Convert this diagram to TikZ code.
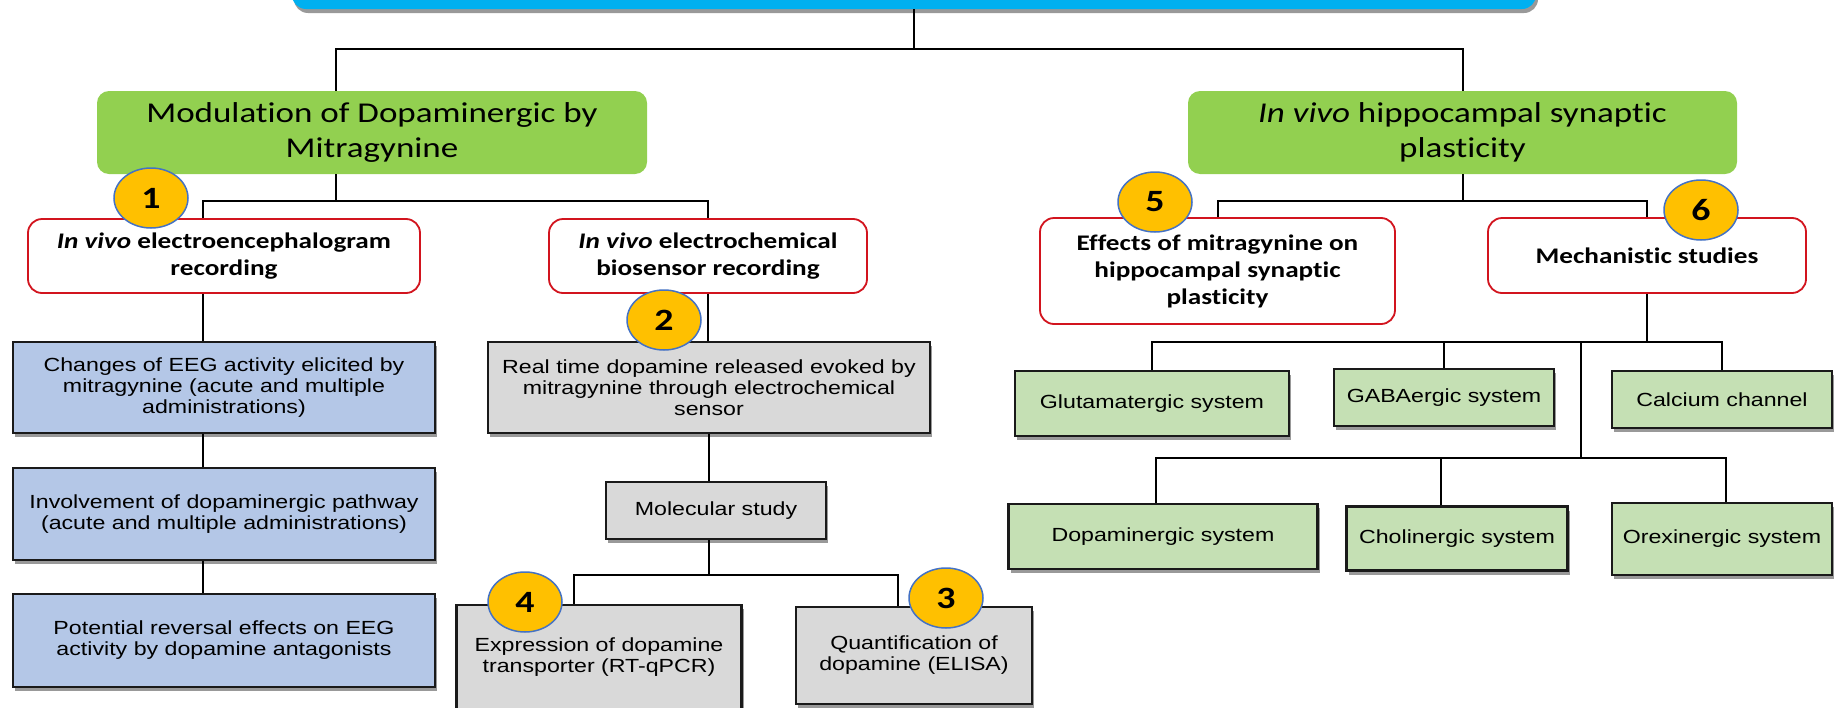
\documentclass[tikz,border=0pt]{standalone}
\usepackage{fontspec}
\setmainfont[FakeStretch=1.22,Ligatures=NoCommon]{Carlito}
\newfontfamily\arialf[FakeStretch=1.22]{Liberation Sans}
\usetikzlibrary{shapes.geometric,shadows}
\definecolor{barblue}{HTML}{00B0F0}
\definecolor{headgreen}{HTML}{92D050}
\definecolor{boxred}{RGB}{210,20,30}
\definecolor{boxline}{HTML}{1A1A1A}
\definecolor{eegblue}{HTML}{B4C7E7}
\definecolor{chemgrey}{HTML}{D9D9D9}
\definecolor{sysgreen}{HTML}{C5E0B4}
\definecolor{badgeyellow}{HTML}{FFC000}
\definecolor{badgeblue}{HTML}{4472C4}
\tikzset{
	link/.style={line width=2pt,black},
	boxshadow/.style={drop shadow={shadow xshift=2pt,shadow yshift=-4pt,opacity=.4,fill=black}},
	topbar/.style={fill=barblue,rounded corners=14pt,minimum width=1244pt,minimum height=60pt,boxshadow},
	headbox/.style={fill=headgreen,rounded corners=12pt,align=center,inner sep=0pt,font=\fontsize{28.7}{35}\selectfont},
	studybox/.style={draw=boxred,line width=1.8pt,fill=white,rounded corners=14pt,align=center,inner sep=0pt,font=\bfseries\fontsize{22.3}{27}\selectfont},
	plainbox/.style={draw=boxline,line width=2.2pt,align=center,inner sep=0pt,font=\arialf\fontsize{19}{21}\selectfont,boxshadow},
	eegbox/.style={plainbox,fill=eegblue},
	chembox/.style={plainbox,fill=chemgrey},
	sysbox/.style={plainbox,fill=sysgreen},
	badge/.style={ellipse,fill=badgeyellow,draw=badgeblue,line width=1.5pt,minimum width=74pt,minimum height=60pt,inner sep=0pt,font=\bfseries\fontsize{31}{31}\selectfont}
}
\begin{document}
\begin{tikzpicture}[x=1pt,y=-1pt]
\useasboundingbox (0,0) rectangle (1834,707);
\clip (0,0) rectangle (1834,707);

\node[topbar] (title) at (914,-21) {};

% main branches
\node[headbox,minimum width=550pt,minimum height=83pt] (mod) at (372,132.5) {Modulation of Dopaminergic by\\Mitragynine};
\node[headbox,minimum width=549pt,minimum height=83pt] (hip) at (1462.5,132.5) {\textit{In vivo} hippocampal synaptic\\plasticity};

\node[studybox,minimum width=392pt,minimum height=74pt] (eeg) at (224,256) {\textit{In vivo} electroencephalogram\\recording};
\node[studybox,minimum width=318pt,minimum height=74pt] (ecb) at (708,256) {\textit{In vivo} electrochemical\\biosensor recording};
\node[studybox,minimum width=355pt,minimum height=106pt] (eff) at (1217.5,271) {Effects of mitragynine on\\hippocampal synaptic\\plasticity};
\node[studybox,minimum width=318pt,minimum height=75pt] (mech) at (1647,255.5) {Mechanistic studies};

% EEG column
\node[eegbox,minimum width=422pt,minimum height=91pt] (chg) at (224,387.5) {Changes of EEG activity elicited by\\mitragynine (acute and multiple\\administrations)};
\node[eegbox,minimum width=422pt,minimum height=92pt] (inv) at (224,514) {Involvement of dopaminergic pathway\\(acute and multiple administrations)};
\node[eegbox,minimum width=422pt,minimum height=93pt] (rev) at (224,640.5) {Potential reversal effects on EEG\\activity by dopamine antagonists};

% biosensor column
\node[chembox,minimum width=442pt,minimum height=91pt] (rt) at (709,387.5) {Real time dopamine released evoked by\\mitragynine through electrochemical\\sensor};
\node[chembox,minimum width=220pt,minimum height=57pt] (mol) at (716,510.5) {Molecular study};
\node[chembox,minimum width=285pt,minimum height=104pt] (dat) at (599,657) {Expression of dopamine\\transporter (RT-qPCR)};
\node[chembox,minimum width=236pt,minimum height=97pt] (eli) at (914,655.5) {Quantification of\\dopamine (ELISA)};

% systems
\foreach \name/\x/\y/\w/\h/\txt in {glu/1152/403.5/274/65/Glutamatergic system,
	gaba/1444/397.5/220/57/GABAergic system,
	cal/1722/399.5/220/57/Calcium channel,
	dop/1163/536.5/309/65/Dopaminergic system,
	cho/1457/538.5/221/64/Cholinergic system,
	ore/1722/539/220/72/Orexinergic system}
{
	\node[sysbox,minimum width=\w pt,minimum height=\h pt] (\name) at (\x,\y) {\txt};
}

% connectors
\coordinate (root) at (913,49);
\draw[link] (title.south) -- (title.south |- root);
\draw[link] ([xshift=-36pt]mod.north) |- (root) -| (hip.north);

\coordinate (modbus) at (336,201);
\draw[link] ([xshift=-36pt]mod.south) -- (modbus);
\draw[link] ([xshift=-21pt]eeg.north) |- (modbus) -| (ecb.north);

\coordinate (hipbus) at (1465,201);
\draw[link] (hip.south) -- (hip.south |- hipbus);
\draw[link] (eff.north) |- (hipbus) -| (mech.north);

\foreach \a/\b in {eeg/chg,chg/inv,inv/rev}
{
	\draw[link] ([xshift=-21pt]\a.south) -- ([xshift=-21pt]\b.north);
}

\draw[link] (ecb.south) -- (ecb.south |- rt.north);
\draw[link] (rt.south) -- ([xshift=-7pt]mol.north);
\coordinate (molbus) at (709,575);
\draw[link] ([xshift=-7pt]mol.south) -- (molbus);
\draw[link] ([xshift=-25pt]dat.north) |- (molbus) -| ([xshift=-16pt]eli.north);

\coordinate (sysbus) at (1581,342);
\coordinate (sysbus2) at (1581,458);
\draw[link] (mech.south) -- (mech.south |- sysbus);
\draw[link] (glu.north) |- (sysbus) -| (cal.north);
\draw[link] (gaba.north) -- (gaba.north |- sysbus);
\draw[link] (sysbus) -- (sysbus2);
\draw[link] ([xshift=-7pt]dop.north) |- (sysbus2) -| ([xshift=3.5pt]ore.north);
\draw[link] ([xshift=-16pt]cho.north) -- ([xshift=-16pt]cho.north |- sysbus2);

% numbered badges
\foreach \n/\x/\y in {1/151/198,2/664/320,3/946/598,4/525/602,5/1155/202,6/1701/210}
{
	\node[badge] (b\n) at (\x,\y) {\n};
}

\end{tikzpicture}
\end{document}
